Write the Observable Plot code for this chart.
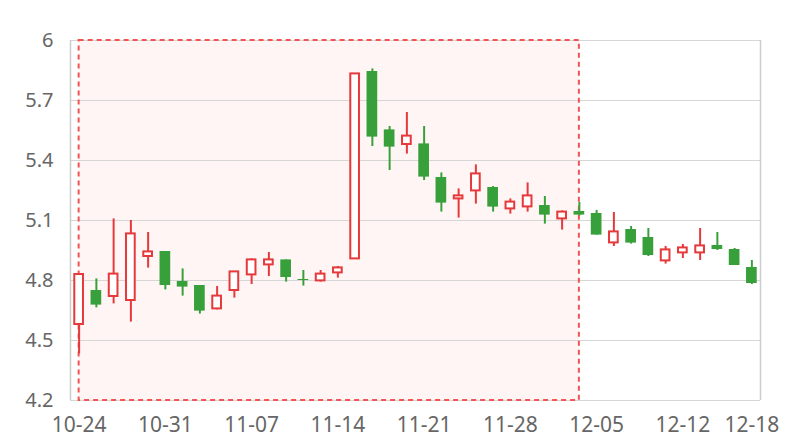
<!DOCTYPE html>
<html>
<head>
<meta charset="utf-8">
<script src="https://cdn.jsdelivr.net/npm/d3@7"></script>
<script src="https://cdn.jsdelivr.net/npm/@observablehq/plot@0.6"></script>
<style>
  html, body { margin: 0; padding: 0; background: #fff; }
  #chart { width: 800px; height: 440px; }
</style>
</head>
<body>
<div id="chart"></div>
<script>
// Trading days (2017), MM-DD
const dates = [
  "10-24","10-25","10-26","10-27","10-30","10-31","11-01","11-02","11-03","11-06",
  "11-07","11-08","11-09","11-10","11-13","11-14","11-15","11-16","11-17","11-20",
  "11-21","11-22","11-23","11-24","11-27","11-28","11-29","11-30","12-01","12-04",
  "12-05","12-06","12-07","12-08","12-11","12-12","12-13","12-14","12-15","12-18"
];
const open = [
  4.58, 4.75, 4.72, 4.70, 4.92, 4.945, 4.795, 4.775, 4.658, 4.75,
  4.828, 4.878, 4.903, 4.805, 4.798, 4.838, 4.908, 5.845, 5.553, 5.48,
  5.483, 5.315, 5.208, 5.248, 5.265, 5.158, 5.168, 5.175, 5.108, 5.145,
  5.135, 4.988, 5.055, 5.015, 4.898, 4.938, 4.938, 4.975, 4.955, 4.865
];
const close = [
  4.83, 4.677, 4.832, 5.033, 4.943, 4.775, 4.767, 4.647, 4.722, 4.843,
  4.903, 4.903, 4.815, 4.80, 4.832, 4.863, 5.833, 5.517, 5.467, 5.522,
  5.317, 5.187, 5.223, 5.333, 5.167, 5.192, 5.223, 5.127, 5.142, 5.127,
  5.027, 5.043, 4.987, 4.925, 4.953, 4.963, 4.973, 4.955, 4.875, 4.785
];
const high = [
  4.83, 4.808, 5.108, 5.10, 5.04, 4.945, 4.858, 4.775, 4.77, 4.843,
  4.908, 4.94, 4.903, 4.85, 4.85, 4.87, 5.833, 5.858, 5.57, 5.64,
  5.57, 5.338, 5.258, 5.378, 5.27, 5.208, 5.288, 5.22, 5.148, 5.19,
  5.15, 5.14, 5.07, 5.06, 4.97, 4.98, 5.06, 5.04, 4.96, 4.90
];
const low = [
  4.433, 4.663, 4.683, 4.592, 4.862, 4.753, 4.722, 4.632, 4.653, 4.712,
  4.78, 4.82, 4.792, 4.772, 4.792, 4.812, 4.908, 5.47, 5.35, 5.432,
  5.30, 5.142, 5.112, 5.182, 5.142, 5.132, 5.142, 5.082, 5.052, 5.123,
  5.027, 4.97, 4.982, 4.92, 4.882, 4.91, 4.90, 4.95, 4.875, 4.78
];
const yTicks = [4.2, 4.5, 4.8, 5.1, 5.4, 5.7, 6];
const xTickDates = ["10-24","10-31","11-07","11-14","11-21","11-28","12-05","12-12","12-18"];
const highlightStart = "10-24";
const highlightEnd = "12-04";

const UP = "#e5393b";
const DOWN = "#38a03a";
const HALF = 0.31;

const data = dates.map((d, i) => ({
  i, date: d, open: open[i], close: close[i], high: high[i], low: low[i],
  up: close[i] >= open[i]
}));
const ups = data.filter(d => d.up);
const downs = data.filter(d => !d.up);
const xTicks = xTickDates.map(d => dates.indexOf(d));
const region = [{
  x1: dates.indexOf(highlightStart), x2: dates.indexOf(highlightEnd),
  y1: yTicks[0], y2: yTicks[yTicks.length - 1]
}];

const chart = Plot.plot({
  width: 800,
  height: 440,
  marginLeft: 70,
  marginRight: 40,
  marginTop: 40,
  marginBottom: 40,
  style: { fontFamily: "'Noto Sans', sans-serif", background: "#fff" },
  x: { type: "linear", domain: [-0.5, dates.length - 0.5], label: null, axis: null },
  y: { domain: [yTicks[0], yTicks[yTicks.length - 1]], label: null, axis: null },
  marks: [
    Plot.rect(region, { x1: "x1", x2: "x2", y1: "y1", y2: "y2", fill: "#fff5f5" }),
    Plot.gridY(yTicks, { stroke: "#d6d6d6", strokeOpacity: 1, strokeWidth: 1 }),
    Plot.ruleX([-0.5, dates.length - 0.5], { stroke: "#cccccc", strokeWidth: 1.5 }),
    Plot.rect(region, { x1: "x1", x2: "x2", y1: "y1", y2: "y2", fill: "none", stroke: "#f05454", strokeWidth: 2, strokeDasharray: "5,4" }),
    Plot.ruleX(data, { x: "i", y1: "low", y2: "high", stroke: d => d.up ? UP : DOWN, strokeWidth: 2 }),
    Plot.rect(downs, { x1: d => d.i - HALF, x2: d => d.i + HALF, y1: "open", y2: "close", fill: DOWN }),
    Plot.rect(ups, { x1: d => d.i - HALF, x2: d => d.i + HALF, y1: "open", y2: "close", fill: "#fff", stroke: UP, strokeWidth: 2, insetLeft: 1, insetRight: 1 }),
    Plot.axisY(yTicks, { tickSize: 0, tickPadding: 17, fontSize: 20, fill: "#666", tickFormat: d => String(d), label: null }),
    Plot.axisX(xTicks, { tickSize: 0, tickPadding: 17, fontSize: 21, fill: "#666", tickFormat: i => dates[i], label: null })
  ]
});
document.getElementById("chart").appendChild(chart);
</script>
</body>
</html>
